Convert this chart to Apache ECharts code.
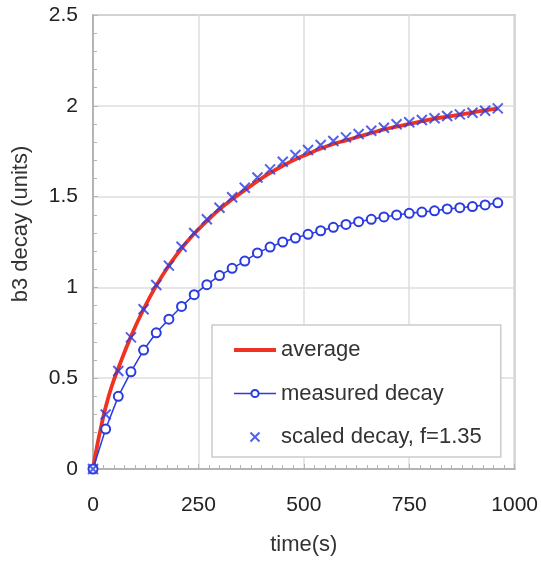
<!DOCTYPE html>
<html>
<head>
<meta charset="utf-8">
<title>b3 decay</title>
<script src="https://cdn.jsdelivr.net/npm/echarts@6/dist/echarts.min.js"></script>
<style>
  html, body { margin: 0; padding: 0; background: #ffffff; }
  #chart { width: 541px; height: 561px; }
</style>
</head>
<body>
<div id="chart"></div>
<script>
// Sample times (s) of the measured and scaled series
const times = [0, 30, 60, 90, 120, 150, 180, 210, 240, 270, 300, 330, 360, 390, 420, 450,
  480, 510, 540, 570, 600, 630, 660, 690, 720, 750, 780, 810, 840, 870, 900, 930, 960];

// Measured b3 decay (units)
const measuredDecay = [0, 0.22, 0.40, 0.535, 0.655, 0.75, 0.825, 0.895, 0.96, 1.015, 1.065,
  1.105, 1.145, 1.19, 1.222, 1.25, 1.272, 1.292, 1.312, 1.331, 1.347, 1.362, 1.375, 1.388,
  1.399, 1.408, 1.415, 1.422, 1.432, 1.439, 1.445, 1.454, 1.466];

// Scaled decay, f = 1.35
const scaledDecay = [0, 0.30, 0.54, 0.725, 0.88, 1.013, 1.12, 1.224, 1.30, 1.375, 1.439,
  1.496, 1.549, 1.605, 1.65, 1.692, 1.729, 1.757, 1.784, 1.806, 1.826, 1.845, 1.863, 1.879,
  1.898, 1.909, 1.922, 1.931, 1.944, 1.953, 1.962, 1.973, 1.986];

// Average curve
const averageTimes = [0, 10, 20, 30, 45, 60, 90, 120, 150, 180, 210, 240, 270, 300, 330, 360,
  390, 420, 450, 480, 510, 540, 570, 600, 630, 660, 690, 720, 750, 780, 810, 840, 870, 900, 930, 960];
const averageDecay = [0, 0.13, 0.24, 0.34, 0.46, 0.555, 0.73, 0.88, 1.01, 1.12, 1.215, 1.295,
  1.365, 1.43, 1.485, 1.535, 1.585, 1.63, 1.67, 1.705, 1.735, 1.765, 1.79, 1.81, 1.83, 1.85,
  1.87, 1.885, 1.90, 1.915, 1.93, 1.94, 1.952, 1.963, 1.975, 1.985];

// Axis ticks
const xTicks = [0, 250, 500, 750, 1000];
const yTicks = [0, 0.5, 1, 1.5, 2, 2.5];

const seriesNames = ['average', 'measured decay', 'scaled decay, f=1.35'];

const pair = (xs, ys) => xs.map((x, i) => [x, ys[i]]);

const FONT = '"Liberation Sans", Arial, Helvetica, sans-serif';
const RED = '#ee3322';
const BLUE = '#2a3be0';
const CROSS = 'path://M0,0L10,10M10,0L0,10';

const chart = echarts.init(document.getElementById('chart'), null, { renderer: 'canvas' });

chart.setOption({
  backgroundColor: '#ffffff',
  animation: false,
  textStyle: { fontFamily: FONT },
  grid: {
    left: 93, right: 26, top: 15, bottom: 92,
    show: true, borderColor: '#b4b4b4', borderWidth: 2, backgroundColor: 'transparent'
  },
  xAxis: {
    type: 'value',
    min: xTicks[0], max: xTicks[xTicks.length - 1],
    interval: xTicks[1] - xTicks[0],
    name: 'time(s)',
    nameLocation: 'middle',
    nameGap: 65,
    nameTextStyle: { fontSize: 22, color: '#333333', fontFamily: FONT },
    axisLine: { show: true, lineStyle: { color: '#b4b4b4', width: 2 } },
    axisTick: { show: true, inside: true, length: 5, lineStyle: { color: '#b4b4b4' } },
    minorTick: { show: true, splitNumber: 10, length: 4, lineStyle: { color: '#b4b4b4' } },
    axisLabel: { fontSize: 21, color: '#222222', margin: 26, fontFamily: FONT,
      formatter: v => String(v) },
    splitLine: { show: true, lineStyle: { color: '#dedede', width: 1.5 } }
  },
  yAxis: {
    type: 'value',
    min: yTicks[0], max: yTicks[yTicks.length - 1],
    interval: yTicks[1] - yTicks[0],
    axisLine: { show: true, lineStyle: { color: '#b4b4b4', width: 2 } },
    axisTick: { show: true, inside: true, length: 5, lineStyle: { color: '#b4b4b4' } },
    minorTick: { show: true, splitNumber: 5, length: 4, lineStyle: { color: '#b4b4b4' } },
    axisLabel: { fontSize: 21, color: '#222222', margin: 15, fontFamily: FONT,
      formatter: v => String(v) },
    splitLine: { show: true, lineStyle: { color: '#dedede', width: 1.5 } }
  },
  legend: {
    orient: 'vertical',
    left: 212, top: 325,
    padding: [14, 19, 9, 20],
    itemWidth: 42, itemHeight: 9, itemGap: 21.5,
    backgroundColor: '#ffffff',
    borderColor: '#cccccc', borderWidth: 1.5,
    textStyle: { fontSize: 22, color: '#333333', fontFamily: FONT },
    data: [
      { name: seriesNames[0], itemStyle: { opacity: 0 }, lineStyle: { width: 4 } },
      { name: seriesNames[1], lineStyle: { width: 1.5 } },
      seriesNames[2]
    ]
  },
  graphic: [{
    type: 'text',
    x: 21, y: 224,
    rotation: Math.PI / 2,
    style: {
      text: 'b3 decay (units)',
      fontSize: 22, fontFamily: FONT, fill: '#333333',
      textAlign: 'center', textVerticalAlign: 'middle'
    }
  }],
  series: [
    {
      name: seriesNames[0],
      type: 'line',
      data: pair(averageTimes, averageDecay),
      smooth: true,
      showSymbol: false,
      symbol: 'none',
      lineStyle: { color: RED, width: 3.8 },
      itemStyle: { color: RED },
      z: 2
    },
    {
      name: seriesNames[1],
      type: 'line',
      data: pair(times, measuredDecay),
      symbol: 'emptyCircle',
      symbolSize: 9,
      lineStyle: { color: BLUE, width: 1.5 },
      itemStyle: { color: BLUE, borderColor: BLUE, borderWidth: 1.8 },
      z: 3
    },
    {
      name: seriesNames[2],
      type: 'scatter',
      data: pair(times, scaledDecay),
      symbol: CROSS,
      symbolSize: 10,
      itemStyle: { color: 'rgba(0,0,0,0)', borderColor: BLUE, borderWidth: 2 },
      z: 4
    }
  ]
});
</script>
</body>
</html>
